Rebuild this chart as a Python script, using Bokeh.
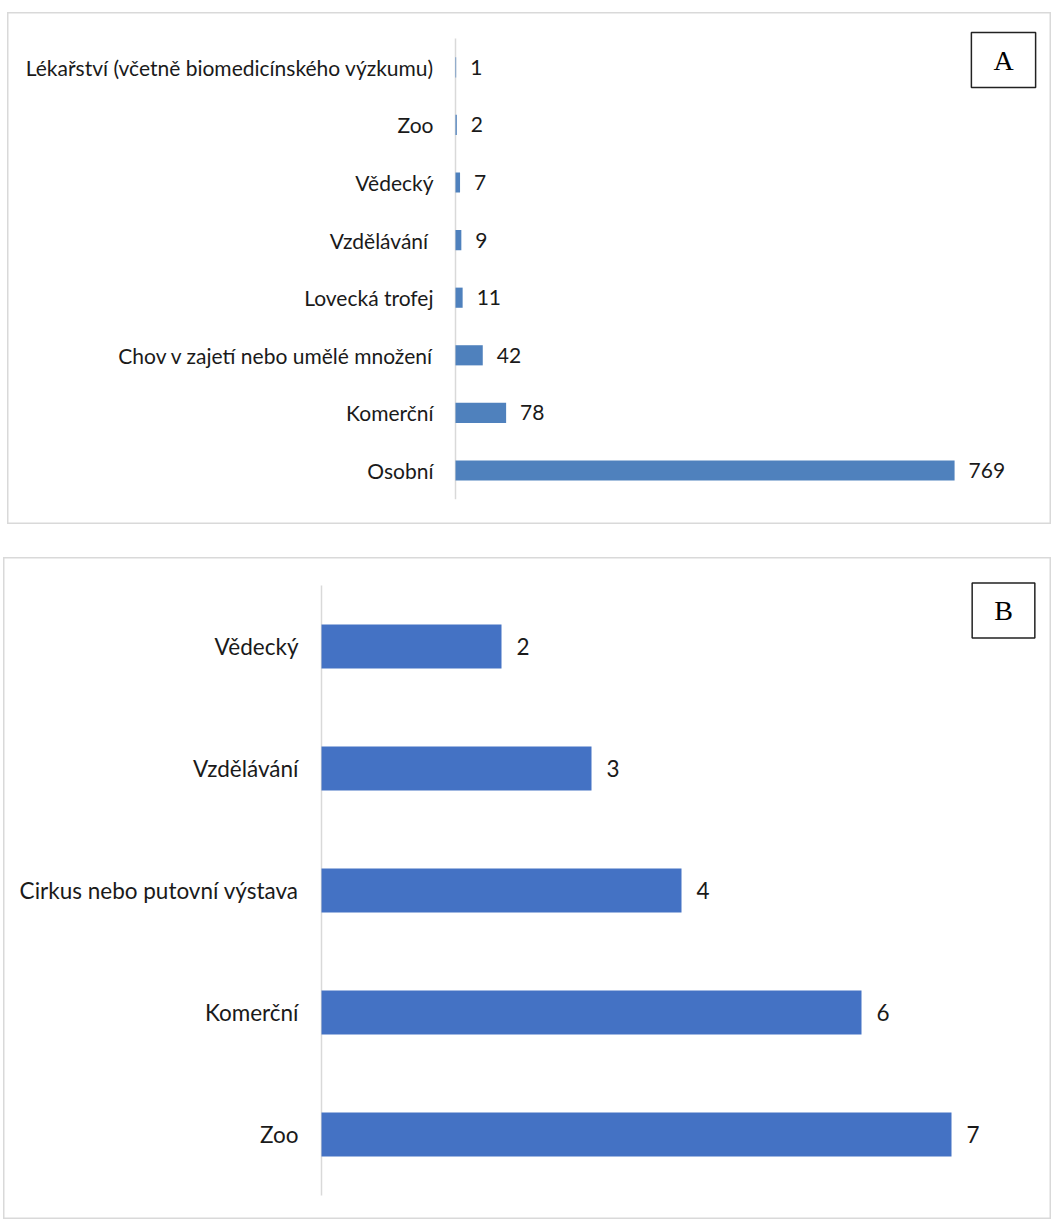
from bokeh.plotting import figure
from bokeh.layouts import column
from bokeh.models import Range1d, Label, ColumnDataSource
from bokeh.core.properties import value
from bokeh.embed import file_html
from bokeh.resources import INLINE

# ---- data ----
cat_a = ["Lékařství (včetně biomedicínského výzkumu)", "Zoo", "Vědecký", "Vzdělávání ",
         "Lovecká trofej", "Chov v zajetí nebo umělé množení", "Komerční", "Osobní"]
val_a = [1, 2, 7, 9, 11, 42, 78, 769]

cat_b = ["Vědecký", "Vzdělávání", "Cirkus nebo putovní výstava", "Komerční", "Zoo"]
val_b = [2, 3, 4, 6, 7]

panel_a = "A"
panel_b = "B"

FONT = "Lato"
TXT = "#1a1a1a"


def panel(cats, vals, letter, width, height, x_range, y_range, bar_color, bar_h,
          fsize, cat_off, val_off, box_cx, box_cy):
    n = len(cats)
    ys = [n - 1 - i for i in range(n)]
    src = ColumnDataSource(dict(y=ys, v=vals, cat=cats, lab=[str(v) for v in vals]))
    p = figure(width=width, height=height, output_backend="svg", toolbar_location=None,
               x_range=x_range, y_range=y_range, x_axis_type=None, y_axis_type=None,
               min_border=0, min_border_left=0, min_border_right=0,
               min_border_top=0, min_border_bottom=0)
    p.grid.visible = False
    p.outline_line_color = "#d9d9d9"
    p.outline_line_width = 2
    p.background_fill_color = "white"
    p.border_fill_color = "white"
    # vertical category axis line
    p.segment(x0=[0], y0=[-0.5], x1=[0], y1=[n - 0.5], line_color="#d9d9d9", line_width=1.5)
    p.hbar(y="y", left=0, right="v", height=bar_h, source=src,
           fill_color=bar_color, line_color=None)
    p.text(x=0, y="y", text="cat", source=src, x_offset=-cat_off, text_align="right",
           text_baseline="middle", text_font=value(FONT), text_font_size=f"{fsize}px",
           text_color=TXT)
    p.text(x="v", y="y", text="lab", source=src, x_offset=val_off, text_align="left",
           text_baseline="middle", text_font=value(FONT), text_font_size=f"{fsize}px",
           text_color=TXT)
    lab = Label(x=box_cx, y=box_cy, x_units="screen", y_units="screen", text=letter,
                text_font="Liberation Serif", text_font_size="28px", text_color="black",
                text_align="center", text_baseline="middle",
                border_line_color="#222222", border_line_width=1.5,
                background_fill_color="white", padding=(22, 12))
    p.add_layout(lab)
    return p


# Panel A: frame x 7..1051 ; axis at x=455 ; 0.649 px/unit ; rows 57.6px
pa = panel(cat_a, val_a, panel_a, 1044, 512,
           Range1d(-(455 - 7) / 0.649, (1051 - 455) / 0.649),
           Range1d(-(524 - 470) / 57.6, (470 - 12) / 57.6),
           "#4f81bd", 0.35, 21, 22, 14, 1003 - 7, 524 - 59.5)
pa.margin = (12, 0, 0, 7)

# Panel B: frame x 3..1051 ; axis at x=321 ; 90 px/unit ; rows 122px
pb = panel(cat_b, val_b, panel_b, 1048, 662,
           Range1d(-(321 - 3) / 90.0, (1051 - 321) / 90.0),
           Range1d(-(1219 - 1134) / 122.0, (1134 - 557) / 122.0),
           "#4472c4", 0.36, 22.5, 23, 15, 1003 - 3, 1219 - 610)
pb.margin = (33, 0, 0, 3)

layout = column(pa, pb, spacing=0)
open("out.html", "w").write(file_html(layout, INLINE))
